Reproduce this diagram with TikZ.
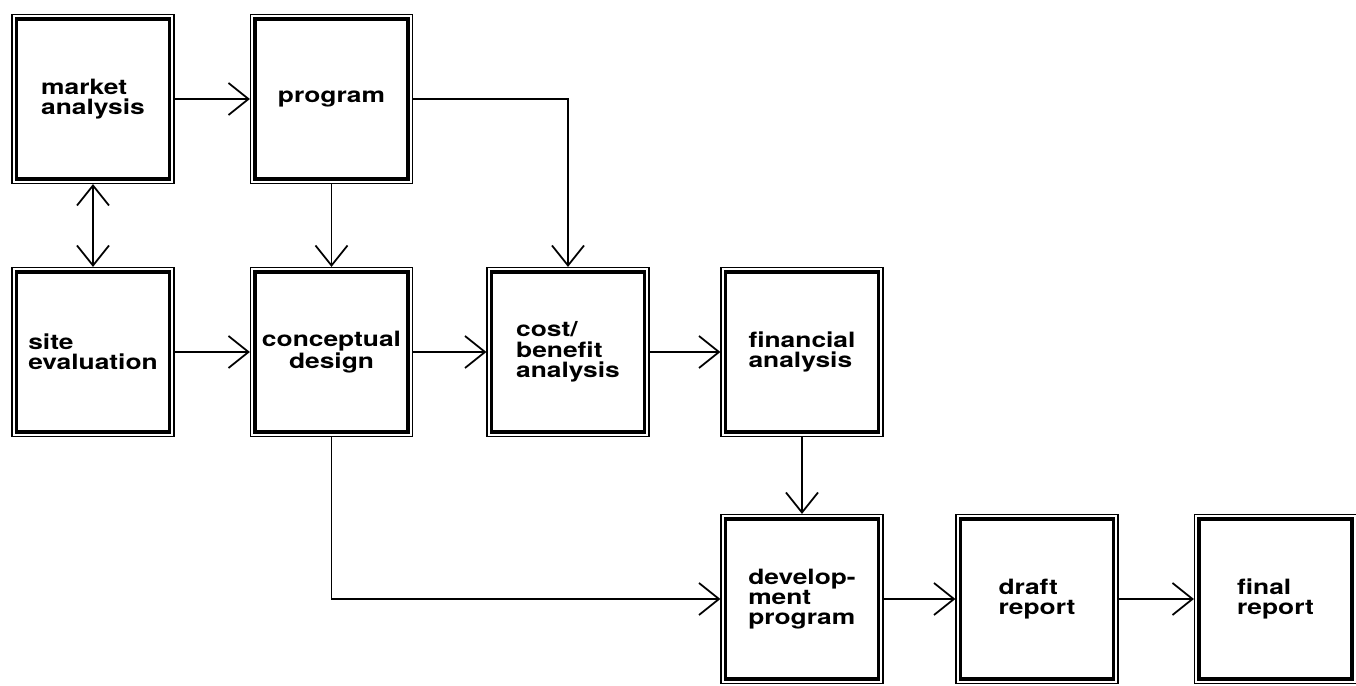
\documentclass[tikz,border=0pt]{standalone}
\usepackage{fontspec}
\setmainfont[FakeStretch=1.25]{TeX Gyre Heros}
\usetikzlibrary{arrows.meta}

\begin{document}
\begin{tikzpicture}[>={Straight Barb[length=0.4cm,width=0.64cm]}, line width=1pt,
  box/.style={draw, line width=1.9pt, outer sep=2.9pt,
    minimum width=3.06cm, minimum height=3.2cm, align=left,
    font=\fontsize{12}{11.5}\selectfont\bfseries}]
  \useasboundingbox (0,0) rectangle (27.12,13.72);
  % first row
  \node[box] (market) at (1.86,11.74) {market\\analysis};
  \node[box] (program) at (6.63,11.74) {program};
  % second row
  \node[box] (site) at (1.86,6.68) {site\\evaluation};
  \node[box, align=center] (concept) at (6.63,6.68) {conceptual\\design};
  \node[box] (cost) at (11.36,6.68) {cost/\\benefit\\analysis};
  \node[box] (finance) at (16.04,6.68) {financial\\analysis};
  % third row
  \node[box] (develop) at (16.04,1.74) {develop-\\ment\\program};
  \node[box] (draft) at (20.74,1.74) {draft\\report};
  \node[box] (final) at (25.51,1.74) {final\\report};
  % thin outer frames
  \foreach \n in {market,program,site,concept,cost,finance,develop,draft,final}
    \draw[line width=0.8pt] ([shift={(0.4pt,0.4pt)}]\n.south west) rectangle ([shift={(-0.4pt,-0.4pt)}]\n.north east);
  % connectors
  \draw[->] (market) -- (program);
  \draw[<->] (market) -- (site);
  \draw[->] (program) -- (concept);
  \draw[->] (program.east) -| (cost.north);
  \draw[->] (site) -- (concept);
  \draw[->] (concept) -- (cost);
  \draw[->] (cost) -- (finance);
  \draw[->] (finance) -- (develop);
  \draw[->] (concept.south) |- (develop.west);
  \draw[->] (develop) -- (draft);
  \draw[->] (draft) -- (final);
\end{tikzpicture}
\end{document}
